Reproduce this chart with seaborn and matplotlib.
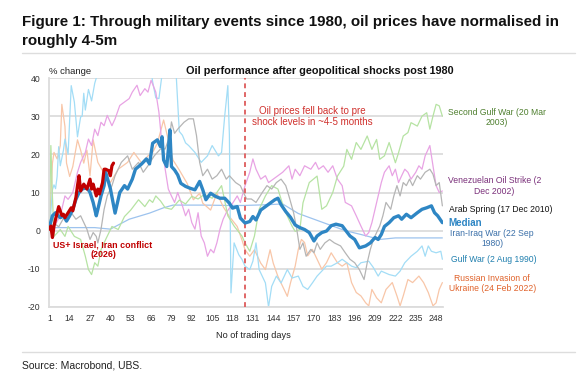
import pandas as pd
import numpy as np
import matplotlib.pyplot as plt
import seaborn as sns
from matplotlib.lines import Line2D

# values: (trading day, % change)
median_days = [1, 3, 5, 8, 10, 12, 14, 16, 18, 20, 22, 25, 27, 29, 31, 32, 34, 36, 37, 40, 43, 46, 49, 51, 54, 56,
               60, 63, 65, 67, 70, 72, 73, 74, 76, 77, 78, 79, 81, 83, 85, 88, 91, 94, 97, 99, 101, 104, 107, 110,
               113, 116, 118, 121, 123, 126, 129, 131, 133, 136, 139, 142, 145, 147, 149, 152, 155, 158, 161, 164,
               167, 170, 172, 175, 178, 181, 184, 188, 190, 193, 196, 199, 203, 206, 209, 211, 213, 215, 218, 221,
               224, 226, 229, 232, 236, 239, 242, 245, 247, 249, 252]
median_vals = [0.8, 3.9, 4.7, 3.4, 3.9, 2.5, 3.9, 5.6, 8.2, 10.0, 10.9, 11.3, 10.0, 7.4, 3.9, 5.6, 9.1, 11.8, 15.3,
               11.0, 4.6, 10.0, 11.8, 10.9, 13.5, 16.1, 17.5, 18.8, 17.5, 22.9, 23.8, 22.0, 24.6, 18.5, 16.8, 21.1,
               26.4, 16.8, 15.9, 14.6, 12.4, 11.6, 11.1, 10.7, 12.9, 10.7, 8.1, 9.8, 9.0, 8.5, 8.5, 7.2, 5.9, 6.3,
               3.3, 2.0, 2.4, 3.7, 2.8, 5.4, 6.3, 7.2, 8.1, 8.5, 6.8, 5.0, 3.5, 1.5, 0.8, 0.3, -0.5, -2.7, -1.4,
               -0.5, -0.1, 1.3, 1.7, 1.3, 0.2, -1.4, -2.3, -4.5, -4.0, -3.2, -1.8, -2.3, -1.0, 1.1, 2.1, 3.4, 3.9,
               3.0, 4.3, 3.4, 4.7, 5.6, 6.0, 6.5, 4.7, 3.9, 2.1]

iran_2026_days = [1, 2, 3, 4, 5, 7, 9, 10, 11, 13, 15, 16, 18, 19, 20, 21, 23, 25, 27, 28, 29, 31, 32, 33, 35, 36,
                  37, 39, 40, 41, 42]
iran_2026_vals = [0.4, 1.2, -1.8, 1.2, 3.0, 6.3, 4.0, 4.3, 3.4, 4.7, 6.0, 5.2, 8.7, 11.8, 14.4, 10.4, 12.2, 10.9,
                  13.5, 10.9, 12.2, 9.1, 10.9, 9.6, 12.6, 16.1, 16.1, 15.7, 14.4, 17.0, 17.7]

iran_iraq_days = [1, 3, 30, 40, 52, 65, 74, 80, 100, 116, 125, 140, 150, 160, 170, 180, 190, 200, 212, 222, 252]
iran_iraq_vals = [0.0, 0.8, 0.8, 0.4, 3.0, 4.6, 6.0, 6.7, 6.7, 6.6, 6.6, 6.8, 7.0, 4.5, 3.0, 1.5, 0.0, -1.0, -2.3,
                  -1.9, -1.9]

gulf_days = [1, 2, 3, 4, 5, 6, 7, 8, 10, 11, 13, 15, 17, 19, 21, 22, 23, 24, 26, 28, 30, 31, 33, 40, 50, 60, 66, 67,
             69, 71, 73, 78, 82, 84, 86, 88, 90, 94, 98, 102, 105, 109, 111, 113, 115, 116, 117, 119, 122, 124, 126,
             129, 131, 133, 135, 139, 141, 143, 146, 149, 153, 156, 160, 163, 166, 169, 172, 175, 178, 181, 185,
             188, 191, 194, 197, 200, 205, 208, 211, 213, 218, 222, 225, 228, 232, 236, 239, 241, 243, 245, 248,
             251, 252]
gulf_vals = [0.0, 5.0, 10.7, 12.0, 11.0, 14.2, 22.0, 17.0, 21.0, 24.0, 20.0, 38.0, 33.7, 24.6, 29.8, 30.0, 36.0,
             31.6, 37.0, 34.0, 38.6, 40.0, 44.0, 46.0, 45.0, 44.0, 42.0, 39.0, 34.8, 34.6, 41.0, 42.0, 41.0, 26.0,
             25.0, 23.0, 22.3, 20.5, 17.9, 19.6, 22.3, 19.6, 20.5, 30.0, 38.0, 25.0, -16.3, -3.2, -6.3, -7.5, -9.3,
             -10.2, -8.0, -3.2, -10.2, -13.7, -20.0, -14.6, -11.9, -13.7, -10.2, -12.4, -11.9, -14.6, -15.4, -13.7,
             -11.9, -10.6, -9.3, -9.3, -8.4, -7.5, -8.4, -9.3, -9.7, -8.4, -8.0, -9.7, -11.9, -10.6, -11.5, -11.9,
             -10.6, -8.4, -6.7, -5.4, -4.0, -6.7, -4.0, -5.4, -5.8, -5.4, -7.5]

russia_days = [1, 2, 3, 4, 6, 8, 9, 11, 12, 14, 16, 19, 21, 23, 25, 27, 29, 32, 36, 40, 45, 51, 55, 60, 64, 67, 70,
               74, 76, 80, 84, 89, 93, 97, 99, 104, 108, 112, 116, 121, 124, 126, 129, 132, 136, 139, 142, 144, 147,
               150, 153, 155, 158, 160, 162, 164, 166, 169, 172, 175, 178, 181, 185, 188, 191, 194, 197, 200, 203,
               205, 207, 210, 213, 216, 220, 223, 225, 227, 230, 233, 237, 240, 243, 246, 248, 250, 252]
russia_vals = [0.0, 9.0, 17.7, 20.5, 18.8, 22.3, 33.1, 27.3, 17.7, 14.2, 16.8, 23.8, 21.1, 17.7, 21.1, 14.4, 23.8,
               17.9, 15.0, 12.6, 16.1, 17.9, 20.5, 17.7, 19.6, 20.5, 22.9, 29.0, 25.5, 18.5, 15.9, 12.4, 8.1, 9.8,
               7.2, 5.4, 9.8, 6.3, 3.7, 1.1, -2.4, -5.0, -6.7, -5.0, -8.5, -10.2, -5.0, -8.5, -12.0, -14.6, -17.2,
               -13.7, -9.3, -4.9, -2.3, -3.1, -6.6, -4.9, -7.5, -10.1, -8.4, -5.8, -8.4, -9.3, -8.4, -13.6, -16.2,
               -17.1, -18.9, -19.7, -15.4, -17.6, -18.9, -15.4, -13.6, -17.1, -19.7, -17.1, -12.8, -13.6, -11.9,
               -13.6, -16.2, -19.7, -18.9, -15.4, -13.6]

gulf2_days = [1, 2, 3, 4, 8, 11, 13, 17, 21, 24, 26, 28, 30, 32, 34, 37, 41, 45, 49, 53, 58, 62, 65, 67, 69, 72, 75,
              79, 84, 88, 92, 96, 100, 105, 108, 111, 115, 119, 124, 126, 129, 132, 135, 139, 143, 147, 151, 156,
              158, 161, 163, 167, 172, 175, 178, 182, 185, 189, 191, 194, 197, 200, 204, 207, 210, 212, 215, 218,
              222, 224, 227, 230, 232, 236, 239, 242, 244, 246, 248, 250, 252]
gulf2_vals = [0.2, 22.3, 9.0, -1.5, 0.3, -1.5, 1.1, -1.5, -2.3, -6.7, -10.2, -11.5, -8.4, -9.3, -5.0, -2.3, 1.1, 0.3,
              3.7, 5.4, 8.1, 6.3, 8.1, 7.4, 9.1, 7.8, 6.0, 5.6, 8.0, 7.0, 9.0, 8.3, 9.5, 8.5, 10.0, 11.8, 3.9, 1.2,
              -1.4, -3.2, -5.4, -1.4, 5.6, 9.1, 11.8, 10.9, 5.6, 1.2, -0.2, 0.3, 7.3, 12.6, 14.3, 5.6, 6.5, 10.0,
              14.3, 16.9, 21.3, 18.7, 23.1, 21.3, 24.8, 21.3, 23.9, 18.7, 19.6, 23.1, 17.8, 20.4, 24.8, 25.7, 28.3,
              27.4, 30.0, 30.9, 26.6, 30.0, 33.1, 32.7, 30.0]

venez_days = [1, 4, 8, 11, 13, 16, 19, 21, 24, 26, 28, 30, 32, 34, 36, 38, 41, 43, 46, 49, 52, 54, 57, 59, 62, 64,
              66, 69, 71, 73, 75, 77, 79, 81, 83, 86, 88, 90, 92, 94, 96, 98, 100, 102, 104, 106, 108, 110, 112, 114,
              117, 121, 123, 126, 129, 131, 133, 136, 139, 141, 144, 147, 150, 154, 156, 158, 161, 164, 168, 171,
              173, 176, 179, 182, 185, 188, 190, 194, 197, 200, 203, 205, 207, 209, 211, 213, 215, 218, 220, 222,
              224, 226, 228, 230, 232, 235, 237, 239, 241, 244, 246, 248, 250, 252]
venez_vals = [0.0, 1.0, 3.9, 9.1, 8.2, 10.0, 15.3, 17.9, 20.5, 24.0, 22.3, 26.6, 24.9, 28.4, 27.5, 30.2, 27.5, 29.3,
              32.8, 33.7, 34.6, 36.3, 38.1, 35.4, 37.2, 36.3, 39.4, 36.3, 31.0, 22.3, 16.1, 10.9, 9.1, 7.4, 10.0, 6.5,
              3.9, 5.6, 2.1, 0.4, 4.7, -1.4, -3.2, -6.7, -4.9, -5.8, -3.2, 0.4, 3.0, 4.7, 6.5, 9.1, 7.4, 11.8, 15.3,
              18.8, 16.1, 13.5, 14.4, 12.6, 13.5, 14.4, 15.3, 17.0, 13.5, 16.1, 14.4, 17.0, 16.1, 17.9, 16.1, 17.0,
              15.3, 17.0, 13.5, 11.8, 7.4, 6.5, 3.9, 1.2, -1.4, -0.5, 2.1, 5.6, 9.1, 12.6, 15.3, 17.0, 14.4, 16.1,
              12.6, 14.4, 16.1, 15.3, 13.5, 15.3, 17.0, 16.1, 19.6, 22.3, 17.0, 11.8, 10.0, 10.4]

arab_days = [1, 4, 7, 11, 15, 18, 21, 25, 27, 29, 31, 32, 34, 36, 38, 41, 43, 47, 51, 54, 58, 61, 64, 68, 72, 75, 78,
             79, 81, 83, 87, 90, 93, 95, 97, 99, 102, 105, 108, 111, 114, 116, 120, 123, 125, 127, 130, 133, 137,
             140, 143, 146, 149, 152, 154, 157, 159, 161, 163, 165, 168, 170, 172, 174, 177, 180, 183, 187, 190,
             193, 196, 199, 202, 204, 206, 208, 210, 212, 214, 216, 219, 221, 223, 225, 227, 229, 231, 233, 236,
             238, 241, 244, 246, 248, 250, 252]
arab_vals = [0.0, 2.0, 1.0, 3.9, 4.7, 3.0, 3.9, 0.4, -2.3, -0.5, -1.5, -3.2, 0.3, 5.6, 9.1, 11.8, 14.4, 17.9, 19.6,
             16.1, 17.9, 15.3, 17.0, 19.6, 21.4, 21.4, 24.9, 28.5, 25.5, 26.6, 28.4, 29.3, 29.3, 24.9, 17.9, 14.4,
             16.1, 13.5, 14.4, 16.1, 13.5, 14.4, 12.6, 11.8, 10.0, 8.3, 8.3, 7.4, 10.0, 11.8, 10.9, 12.6, 13.5, 11.8,
             9.1, 4.7, 0.4, -4.9, -3.2, -6.7, -4.9, -5.8, -3.2, -4.9, -3.2, -2.3, -3.2, -4.0, -5.8, -7.5, -8.4,
             -10.2, -12.8, -8.4, -4.9, -2.3, -0.5, 1.2, 3.9, 7.4, 5.6, 9.1, 11.8, 9.1, 12.6, 11.8, 13.5, 11.8, 14.4,
             13.5, 15.3, 16.1, 14.8, 11.8, 12.6, 6.5]

x_ticks = list(range(1, 252, 13))
y_ticks = [-20, -10, 0, 10, 20, 30, 40]
normalise_day = 126

W, H = 585, 382
sns.set_style('white')
plt.rcParams['font.family'] = ['Liberation Sans', 'DejaVu Sans']
plt.rcParams['axes.unicode_minus'] = False

fig = plt.figure(figsize=(W / 100, H / 100), dpi=100)


def px(x, y):
    return x / W, 1 - y / H


ax = fig.add_axes([49.3 / W, 1 - 307 / H, (443 - 49.3) / W, (307 - 78) / H])

# faint event lines
thin = [
    (iran_iraq_days, iran_iraq_vals, '#9DC3EE'),
    (russia_days, russia_vals, '#F8C6A8'),
    (gulf_days, gulf_vals, '#A3DDF6'),
    (venez_days, venez_vals, '#E8A3E4'),
    (gulf2_days, gulf2_vals, '#B6E3A3'),
    (arab_days, arab_vals, '#B5B5B5'),
]
for d, v, c in thin:
    sns.lineplot(x=d, y=v, ax=ax, color=c, linewidth=0.9)

sns.lineplot(x=median_days, y=median_vals, ax=ax, color='#2E86C4', linewidth=2.4, zorder=5)
sns.lineplot(x=iran_2026_days, y=iran_2026_vals, ax=ax, color='#C00000', linewidth=2.3, zorder=6)

ax.axvline(normalise_day, color='#E06666', linestyle=(0, (2.5, 2)), linewidth=1.4, zorder=4)

ax.set_xlim(1, 252.4)
ax.set_ylim(-20, 40)
ax.set_xticks(x_ticks)
ax.set_yticks(y_ticks)
ax.set_xlabel('')
ax.set_ylabel('')
ax.yaxis.grid(True, color='#DCDCDC', linewidth=1.3)
ax.set_axisbelow(True)
for s in ['top', 'right']:
    ax.spines[s].set_visible(False)
for s in ['left', 'bottom']:
    ax.spines[s].set_color('#DCDCDC')
    ax.spines[s].set_linewidth(1.3)
ax.tick_params(axis='both', length=0, labelsize=6.2, colors='#333333')
ax.tick_params(axis='y', pad=6.5)
ax.tick_params(axis='x', pad=5)

# headline
fig.text(*px(22, 26.3), 'Figure 1: Through military events since 1980, oil prices have normalised in',
         fontsize=10.9, fontweight='bold', va='baseline', ha='left', color='#111111')
fig.text(*px(22, 45), 'roughly 4-5m', fontsize=10.9, fontweight='bold', va='baseline', ha='left', color='#111111')

fig.add_artist(Line2D([22 / W, 575 / W], [1 - 52.7 / H] * 2, color='#DDDDDD', linewidth=1))
fig.add_artist(Line2D([22 / W, 575 / W], [1 - 351.7 / H] * 2, color='#DDDDDD', linewidth=1))

fig.text(*px(320, 71), 'Oil performance after geopolitical shocks post 1980', fontsize=7.8, fontweight='bold',
         ha='center', va='center', color='#111111')
fig.text(*px(49, 71), '% change', fontsize=6.8, ha='left', va='center', color='#222222')
fig.text(*px(253, 336), 'No of trading days', fontsize=6.6, ha='center', va='center', color='#222222')
fig.text(*px(22, 365), 'Source: Macrobond, UBS.', fontsize=7.5, ha='left', va='center', color='#222222')

fig.text(*px(312, 116.5), 'Oil prices fell back to pre\nshock levels in ~4-5 months', fontsize=7,
         ha='center', va='center', color='#D0312D', linespacing=1.1)

lab = dict(fontsize=6.2, va='center', linespacing=1.15)
fig.text(*px(497, 117.8), 'Second Gulf War (20 Mar\n2003)', ha='center', color='#4E7F2E', **lab)
fig.text(*px(494.5, 186), 'Venezuelan Oil Strike (2\nDec 2002)', ha='center', color='#7A2F7A', **lab)
fig.text(*px(448.7, 209), 'Arab Spring (17 Dec 2010)', ha='left', color='#111111', **lab)
fig.text(*px(448.7, 222.7), 'Median', ha='left', color='#2E86C4', fontweight='bold', fontsize=7, va='center')
fig.text(*px(492, 238.9), 'Iran-Iraq War (22 Sep\n1980)', ha='center', color='#3A6FA8', **lab)
fig.text(*px(450.7, 259.3), 'Gulf War (2 Aug 1990)', ha='left', color='#1F7FAE', **lab)
fig.text(*px(492.3, 283.3), 'Russian Invasion of\nUkraine (24 Feb 2022)', ha='center', color='#E0622A', **lab)
fig.text(*px(103, 249.7), 'US+ Israel, Iran conflict\n(2026)', ha='center', color='#C00000', fontweight='bold',
         fontsize=6.4, va='center', linespacing=1.15)

plt.savefig('out.png', dpi=100)
